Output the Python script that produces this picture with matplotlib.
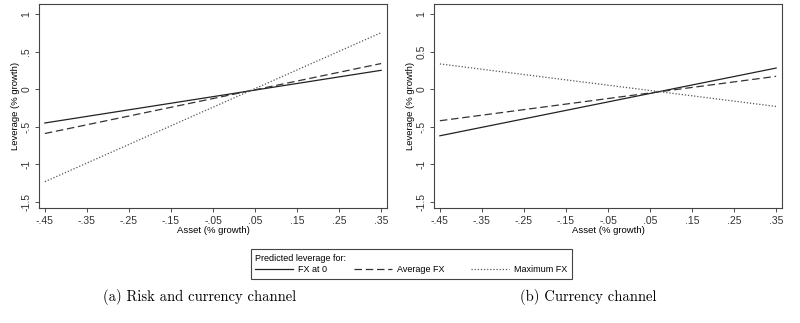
import matplotlib
matplotlib.use('Agg')
import matplotlib.pyplot as plt

# asset growth at both ends of each fitted line
asset = [-0.45, 0.35]

# (a) risk and currency channel
a_fx0 = [-0.45, 0.25]
a_avg = [-0.59, 0.34]
a_max = [-1.23, 0.75]

# (b) currency channel
b_fx0 = [-0.62, 0.28]
b_avg = [-0.42, 0.17]
b_max = [0.335, -0.23]

xticks = [-0.45, -0.35, -0.25, -0.15, -0.05, 0.05, 0.15, 0.25, 0.35]
xticklabels = ['-.45', '-.35', '-.25', '-.15', '-.05', '.05', '.15', '.25', '.35']
yticks = [1, 0.5, 0, -0.5, -1, -1.5]
a_yticklabels = ['1', '.5', '0', '-.5', '-1', '-1.5']
b_yticklabels = ['1', '0.5', '0', '-.5', '-1', '-1.5']

series_names = ['FX at 0', 'Average FX', 'Maximum FX']

plt.rcParams['font.family'] = ['Liberation Sans', 'DejaVu Sans']

fig = plt.figure(figsize=(8, 3.23), dpi=100)
ax1 = fig.add_axes([0.04875, 0.356, 0.435, 0.632])
ax2 = fig.add_axes([0.5425, 0.356, 0.435, 0.632])

styles = [dict(ls='-', lw=0.9, color='#222222'),
          dict(ls=(0, (6, 3)), lw=0.9, color='#333333'),
          dict(ls=(0, (1, 1.5)), lw=0.9, color='#555555')]

for ax, ys, ylabels in [(ax1, [a_fx0, a_avg, a_max], a_yticklabels),
                        (ax2, [b_fx0, b_avg, b_max], b_yticklabels)]:
    for y, st, name in zip(ys, styles, series_names):
        ax.plot(asset, y, label=name, **st)
    ax.set_xlim(-0.464, 0.364)
    ax.set_ylim(-1.58, 1.133)
    ax.set_xticks(xticks)
    ax.set_xticklabels(xticklabels, fontsize=7.5)
    ax.set_yticks(yticks)
    ax.set_yticklabels(ylabels, fontsize=7.5, rotation=90, va='center')
    ax.tick_params(length=3, width=0.6, pad=2.5, colors='#333333')
    ax.set_xlabel('Asset (% growth)', fontsize=6.8, labelpad=0)
    ax.set_ylabel('Leverage (% growth)', fontsize=6.8, labelpad=1)
    for s in ax.spines.values():
        s.set_linewidth(0.8)
        s.set_color('#444444')

handles, labels = ax1.get_legend_handles_labels()
leg = fig.legend(handles, labels, title='Predicted leverage for:', ncol=3,
                 loc='center', bbox_to_anchor=(0.514, 0.183),
                 fontsize=6.5, title_fontsize=6.5, handlelength=4.2,
                 columnspacing=2.9, handletextpad=0.6,
                 fancybox=False, edgecolor='#444444', framealpha=1,
                 borderpad=0.5, labelspacing=0.25)
leg._legend_box.align = 'left'
leg.get_frame().set_linewidth(0.8)

fig.text(0.25, 0.08, '(a) Risk and currency channel', fontsize=10.5,
         family='cmr10', ha='center', va='center')
fig.text(0.735, 0.08, '(b) Currency channel', fontsize=10.5,
         family='cmr10', ha='center', va='center')

fig.savefig('out.png', dpi=100)
